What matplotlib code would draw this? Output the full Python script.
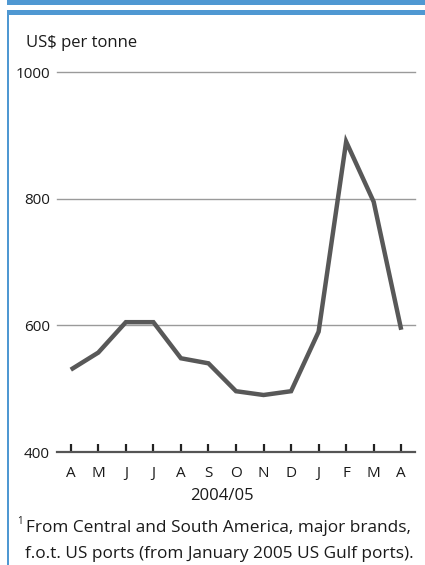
import matplotlib
matplotlib.use("Agg")
from matplotlib import pyplot as plt
from matplotlib.patches import Rectangle
import numpy as np

plt.rcParams['font.family'] = ['Open Sans', 'DejaVu Sans']

months = ['A', 'M', 'J', 'J', 'A', 'S', 'O', 'N', 'D', 'J', 'F', 'M', 'A']
price = [530, 557, 605, 605, 548, 540, 496, 490, 496, 590, 890, 795, 593]
yticks = [400, 600, 800, 1000]

blue = '#4f98d2'
line_grey = '#585858'
text_col = '#1a1a1a'

fig = plt.figure(figsize=(4.25, 5.65), dpi=100)
W, H = 425, 565

# blue frame: double rule at the top, thin rule down the left
fig.add_artist(Rectangle((7 / W, 1 - 5 / H), 1, 5 / H, transform=fig.transFigure,
                         color=blue, lw=0))
fig.add_artist(Rectangle((7 / W, 1 - 15 / H), 1, 5 / H, transform=fig.transFigure,
                         color=blue, lw=0))
fig.add_artist(Rectangle((7 / W, 0), 1.6 / W, 1 - 10 / H, transform=fig.transFigure,
                         color=blue, lw=0))

ax = fig.add_axes([57 / W, 1 - 452 / H, (415 - 57) / W, (452 - 72) / H])

x = np.arange(len(months))
ax.plot(x, price, color=line_grey, lw=3.2, solid_joinstyle='miter',
        solid_capstyle='butt', zorder=3)

ax.set_xlim(-0.5, 12.5)
ax.set_ylim(400, 1000)

for v in yticks[1:]:
    ax.axhline(v, color='#9a9a9a', lw=1.0, zorder=1, clip_on=False)

for s in ['top', 'right', 'left']:
    ax.spines[s].set_visible(False)
ax.spines['bottom'].set_color('#555555')
ax.spines['bottom'].set_linewidth(1.6)

ax.set_yticks(yticks)
ax.set_yticklabels([str(v) for v in yticks])
ax.tick_params(axis='y', length=0, pad=5, labelsize=11, labelcolor=text_col)

ax.set_xticks(x)
ax.set_xticklabels(months)
ax.tick_params(axis='x', direction='in', length=6, width=1.6, color='#222222',
               pad=10, labelsize=11, labelcolor=text_col)

fig.text(26 / W, 1 - 47 / H, 'US$ per tonne', fontsize=12, color=text_col,
         ha='left', va='baseline')
fig.text(222 / W, 1 - 500 / H, '2004/05', fontsize=12, color=text_col,
         ha='center', va='baseline')

fig.text(17 / W, 1 - 524 / H, '1', fontsize=7, color=text_col, ha='left', va='baseline')
fig.text(26 / W, 1 - 532 / H, 'From Central and South America, major brands,',
         fontsize=12.4, color=text_col, ha='left', va='baseline')
fig.text(25 / W, 1 - 558 / H, 'f.o.t. US ports (from January 2005 US Gulf ports).',
         fontsize=12.4, color=text_col, ha='left', va='baseline')

fig.savefig('out.png', dpi=100)
